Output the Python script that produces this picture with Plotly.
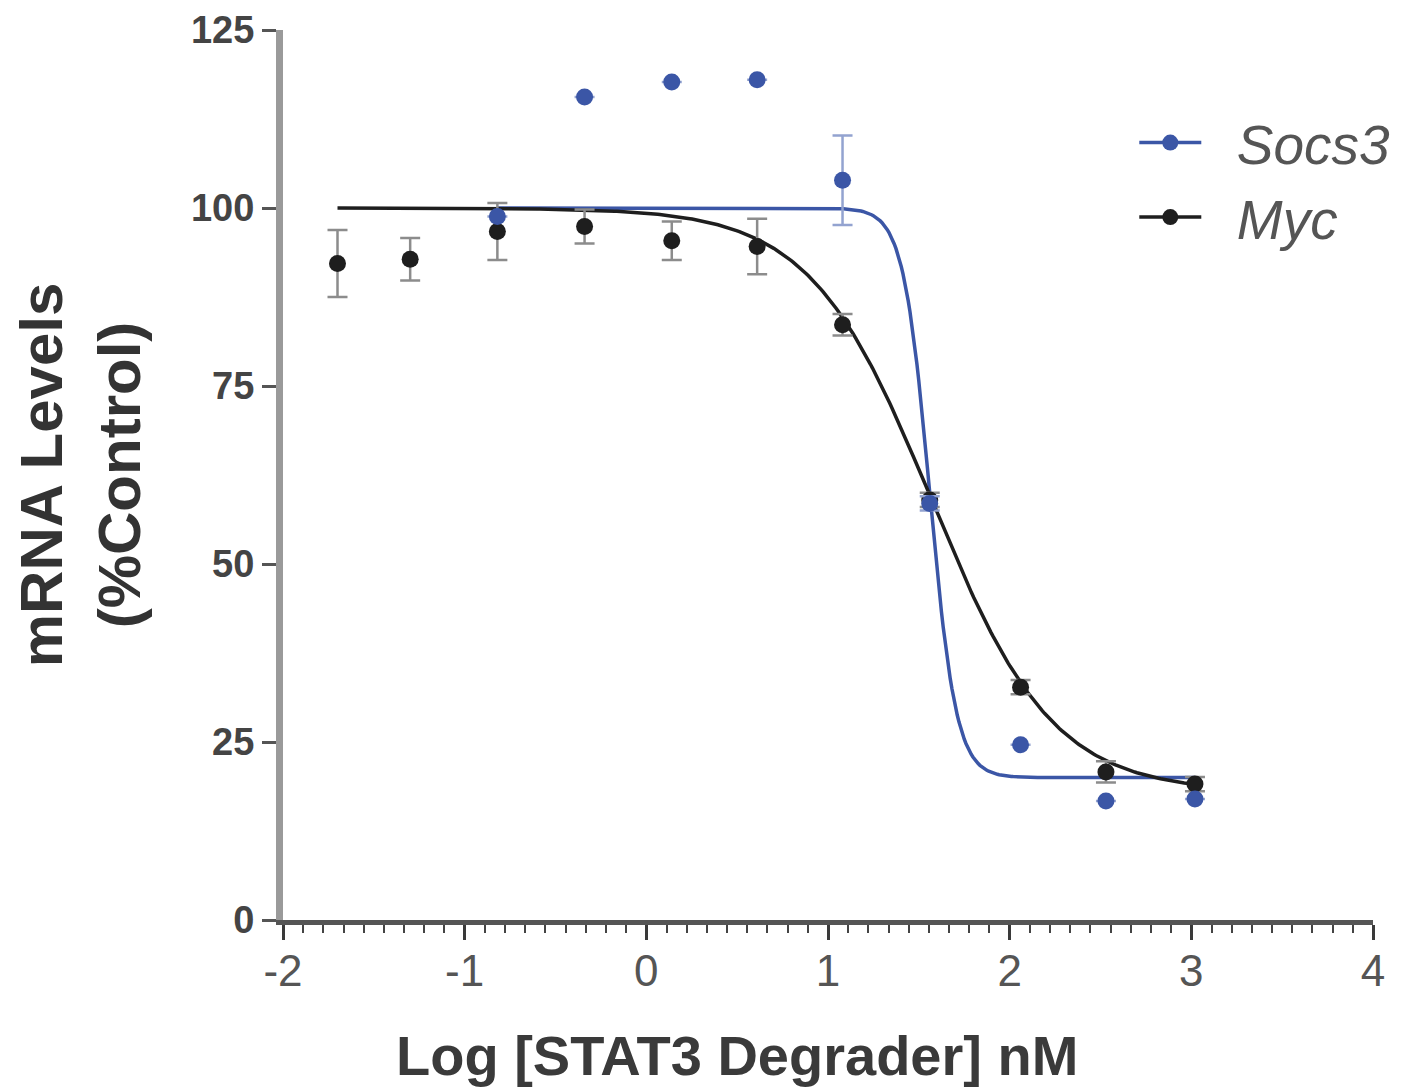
import numpy as np
import plotly.graph_objects as go

# ---------------- data ----------------
myc_x = [-1.70, -1.30, -0.82, -0.34, 0.14, 0.61, 1.08, 1.56, 2.06, 2.53, 3.02]
myc_y = [92.2, 92.8, 96.7, 97.4, 95.4, 94.6, 83.6, 59.0, 32.7, 20.8, 19.1]
myc_err = [4.7, 3.0, 4.0, 2.4, 2.7, 3.9, 1.5, 1.0, 1.0, 1.5, 1.0]

socs3_x = [-0.82, -0.34, 0.14, 0.61, 1.08, 1.56, 2.06, 2.53, 3.02]
socs3_y = [98.8, 115.6, 117.7, 118.0, 103.9, 58.5, 24.6, 16.7, 17.0]
socs3_err = [0, 0, 0, 0, 6.3, 1.0, 0, 0, 0]

# 4-parameter logistic fit parameters: top, bottom, logEC50, hill slope
myc_fit = dict(top=100.0, bottom=18.0, logec50=1.57, hill=1.3)
socs3_fit = dict(top=100.0, bottom=20.0, logec50=1.56, hill=6.0)

x_ticks = [-2, -1, 0, 1, 2, 3, 4]
y_ticks = [0, 25, 50, 75, 100, 125]

BLUE = "#3b56a6"
BLACK = "#1e1e1e"


def fit_curve(p, x0, x1):
    xs = np.linspace(x0, x1, 400)
    ys = p["bottom"] + (p["top"] - p["bottom"]) / (1 + 10 ** ((xs - p["logec50"]) * p["hill"]))
    return xs, ys


fig = go.Figure()

sx, sy = fit_curve(socs3_fit, socs3_x[0], socs3_x[-1])
mx, my = fit_curve(myc_fit, myc_x[0], myc_x[-1])

fig.add_trace(go.Scatter(x=sx, y=sy, mode="lines", line=dict(color=BLUE, width=3.5),
                         showlegend=False, hoverinfo="skip"))
fig.add_trace(go.Scatter(x=mx, y=my, mode="lines", line=dict(color=BLACK, width=3.5),
                         showlegend=False, hoverinfo="skip"))

fig.add_trace(go.Scatter(
    x=myc_x, y=myc_y, mode="markers",
    marker=dict(color=BLACK, size=17),
    error_y=dict(type="data", array=myc_err, visible=True, color="#8c8c8c",
                 thickness=2.5, width=10),
    showlegend=False))
fig.add_trace(go.Scatter(
    x=socs3_x, y=socs3_y, mode="markers",
    marker=dict(color=BLUE, size=17),
    error_y=dict(type="data", array=socs3_err, visible=True, color="#93a3d0",
                 thickness=2.5, width=10),
    showlegend=False))

# legend entries
NB = "\u00a0"
fig.add_trace(go.Scatter(x=[None], y=[None], mode="lines+markers", name=NB * 2 + "Socs3",
                         line=dict(color=BLUE, width=3.5), marker=dict(color=BLUE, size=17),
                         legendrank=1))
fig.add_trace(go.Scatter(x=[None], y=[None], mode="lines+markers", name=NB * 2 + "Myc",
                         line=dict(color=BLACK, width=3.5), marker=dict(color=BLACK, size=17),
                         legendrank=2))

FONT = "Liberation Sans, Arial, sans-serif"

fig.update_layout(
    width=1409, height=1090,
    margin=dict(l=275, r=44, t=22, b=178),
    plot_bgcolor="white", paper_bgcolor="white",
    font=dict(family=FONT),
    showlegend=True,
    legend=dict(x=0.781, y=0.921, xanchor="left", yanchor="top",
                font=dict(size=55, color="#555555", style="italic", family=FONT),
                itemwidth=62, bgcolor="rgba(0,0,0,0)", tracegroupgap=0),
    xaxis=dict(range=[-2, 4], tickvals=x_ticks, ticktext=[str(v) for v in x_ticks],
               automargin=False,
               showgrid=False, zeroline=False,
               showline=True, linecolor="#555555", linewidth=5,
               ticks="outside", ticklen=15, tickwidth=3, tickcolor="#3a3a3a",
               tickfont=dict(size=44, color="#555555", family=FONT),
               minor=dict(dtick=1/9, tick0=-2, ticks="outside", ticklen=8,
                          tickwidth=2, tickcolor="#444444", showgrid=False),
               ticklabelstandoff=-7),
    yaxis=dict(range=[0, 125], tickvals=y_ticks, ticktext=[str(v) for v in y_ticks],
               automargin=False,
               showgrid=False, zeroline=False,
               showline=True, linecolor="#9a9a9a", linewidth=7,
               ticks="outside", ticklen=14, tickwidth=3, tickcolor="#555555",
               tickfont=dict(size=38, color="#444444", family=FONT, weight="bold"),
               title=dict(text="mRNA Levels<br>(%Control)",
                          font=dict(size=60, color="#333333", family=FONT, weight="bold"),
                          standoff=43)),
    annotations=[dict(text="<b>Log [STAT3 Degrader] nM</b>", xref="x", yref="paper",
                      x=0.5, y=-0.152, xanchor="center", yanchor="middle", showarrow=False,
                      font=dict(size=56, color="#3a3a3a", family=FONT))],
)

fig.write_html("out.html")
